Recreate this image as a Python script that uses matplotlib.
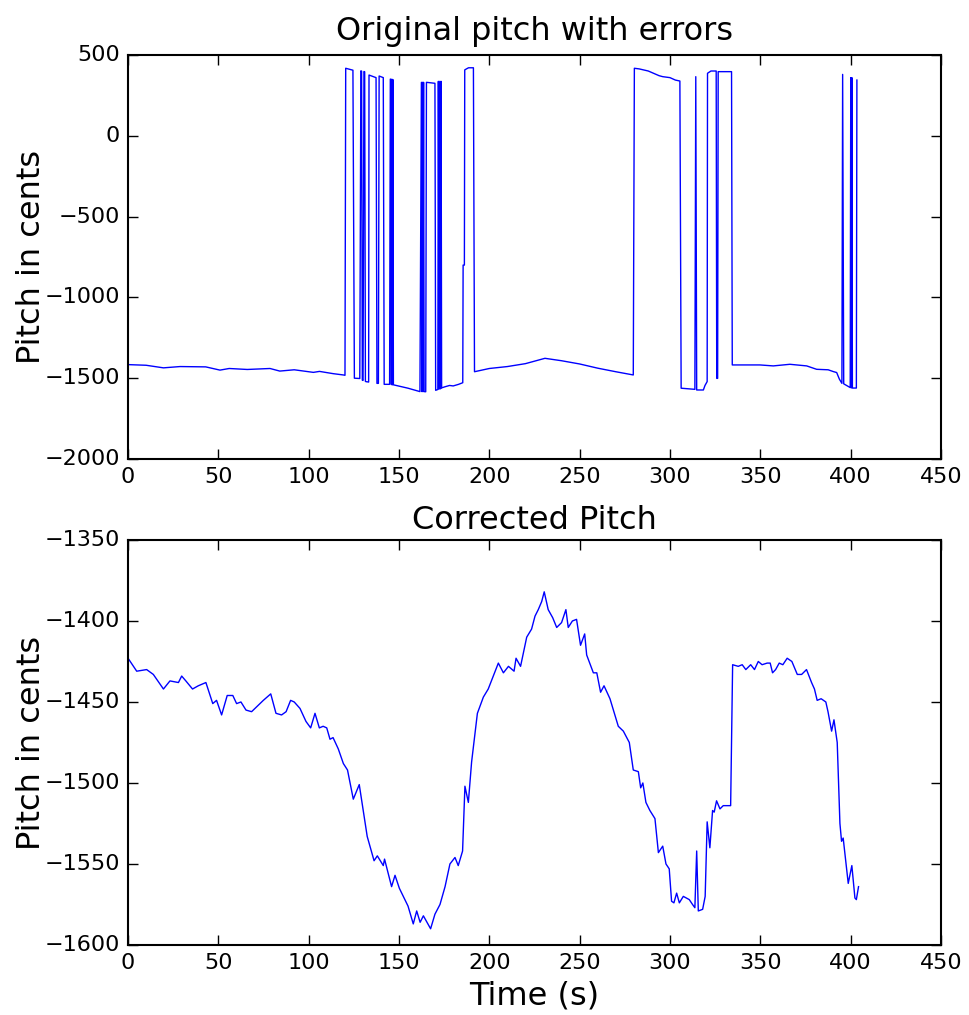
import matplotlib
matplotlib.use("Agg")
import matplotlib.pyplot as plt

# corrected pitch (bottom panel)
time_corr = [0, 4.8, 10.3, 14, 19.6, 23.2, 27.9, 29.7, 32, 35.7,
             38.9, 43.1, 46.9, 49, 51.8, 54.9, 58, 60.1, 62.5, 65.3,
             68.4, 72.1, 74.9, 79, 81.9, 85, 87.5, 90, 92, 95.2,
             98.5, 101.1, 103.5, 105.9, 108, 110, 111.8, 113.5, 116.4, 119.2,
             121.5, 124.7, 128, 132.4, 136.2, 138, 141.3, 142, 145.9, 147.8,
             150.2, 152.4, 155, 157.9, 159.8, 161.7, 163.5, 165.5, 167.5, 169.9,
             172.7, 175.5, 178.2, 181, 182.8, 185.2, 186.5, 188.4, 190.2, 193.4,
             196.7, 199.4, 202.2, 205, 207.8, 210.6, 213.7, 214.8, 217.3, 219.2,
             220.7, 223.4, 225.3, 227.1, 229, 230.4, 232.6, 235.1, 237.3, 240,
             242.4, 243.7, 246, 248.3, 250.5, 252.8, 253.9, 257.6, 259.5, 261.6,
             263.5, 266.8, 271.4, 274.2, 277.5, 279.7, 282.5, 283.8, 285, 286.7,
             288.9, 291.7, 293.6, 296, 297.8, 299.6, 300.9, 302.2, 303.7, 305.2,
             307.4, 309, 310.7, 312.5, 313.8, 314.8, 315.7, 318.1, 319.5, 320.6,
             322.1, 323.6, 324.5, 325.8, 327.7, 329.5, 333.6, 334.7, 337.8, 340,
             342, 344.7, 346.8, 348.9, 351, 353.8, 355.5, 356.8, 358.5, 360.5,
             362.5, 364.9, 367.5, 370.5, 372.9, 375.6, 378.4, 380, 381.5, 383.7,
             386.3, 387.5, 389.5, 390.8, 392.6, 394.1, 395, 395.9, 398.7, 400.7,
             402.4, 403.2, 404.4]
pitch_corr = [-1423, -1431, -1430, -1433, -1442, -1437, -1438, -1434, -1437, -1442,
              -1440, -1438, -1451, -1449, -1458, -1446, -1446, -1451, -1450, -1455,
              -1456, -1452, -1449, -1445, -1457, -1458, -1456, -1449, -1450, -1454,
              -1462, -1466, -1457, -1466, -1465, -1466, -1473, -1472, -1479, -1488,
              -1492, -1510, -1501, -1533, -1548, -1545, -1551, -1547, -1564, -1557,
              -1565, -1570, -1576, -1587, -1579, -1586, -1582, -1586, -1590, -1581,
              -1575, -1564, -1550, -1546, -1551, -1542, -1502, -1512, -1487, -1457,
              -1447, -1442, -1434, -1426, -1432, -1428, -1431, -1423, -1428, -1418,
              -1410, -1405, -1397, -1393, -1388, -1382, -1393, -1398, -1404, -1401,
              -1393, -1404, -1400, -1399, -1415, -1408, -1421, -1432, -1432, -1444,
              -1440, -1448, -1465, -1468, -1475, -1492, -1493, -1503, -1500, -1512,
              -1517, -1522, -1543, -1539, -1550, -1553, -1573, -1574, -1568, -1574,
              -1570, -1571, -1572, -1575, -1577, -1542, -1579, -1578, -1570, -1524,
              -1540, -1517, -1518, -1511, -1516, -1514, -1514, -1427, -1428, -1427,
              -1430, -1427, -1430, -1425, -1427, -1426, -1426, -1432, -1430, -1426,
              -1427, -1423, -1425, -1433, -1433, -1430, -1438, -1442, -1449, -1448,
              -1450, -1456, -1468, -1461, -1475, -1525, -1536, -1534, -1562, -1551,
              -1571, -1572, -1564]

# original pitch with octave+fifth errors (top panel)
time_orig = [0, 10, 19.6, 28.8, 43, 50.9, 56, 66, 78.6, 84,
             92, 102.6, 106, 113.6, 119.2, 120.1,
             120.5, 124.5, 125.3, 128.3, 128.9, 129.3, 129.7, 130.1, 130.6, 131.0,
             131.4, 131.9, 132.2, 133.2, 133.4, 137.3, 137.8, 138.6, 139.0, 141.3,
             141.8, 144.8, 145.2, 145.5, 145.8, 146.1, 146.4, 146.6, 146.9, 155,
             161.6, 162.4, 162.7, 163.0, 163.3, 163.6, 163.9, 164.8, 165.2, 169.9,
             170.3, 171.5, 171.8, 172.2, 172.6, 173.0, 173.3, 173.6, 175.5, 178,
             180, 183, 185.3, 185.5, 186.2, 186.4, 187.5, 188.5, 191.2, 191.8,
             200, 210, 220, 230.8, 240, 250, 260, 270, 279.7,
             280.3, 283, 288, 294, 296, 300, 303, 305.5, 306.2, 313.8,
             314.3, 314.8, 318.5, 319.4, 320.6, 320.8, 322.7, 325.6, 325.9, 326.4,
             326.7, 334.1, 334.5,
             349.8, 357.2, 366.4, 375.7, 381.2, 387.6, 390.4, 392.3, 393.8, 395.2,
             395.6, 396.2, 399.8, 400.1, 400.4, 400.7, 401.0, 403.2, 403.5]
pitch_orig = [-1416, -1420, -1436, -1428, -1430, -1450, -1440, -1446, -1440, -1456,
              -1448, -1464, -1458, -1472, -1480, -1482,
              418, 406, -1500, -1502, 402, 400, -1512, -1514, 398, 396,
              -1520, -1522, -1522, -1524, 376, 360, -1532, -1532, 370, 360,
              -1538, -1538, 351, 350, -1540, 350, -1541, 348, -1541, -1562,
              -1583, 331, -1583, 331, -1583, 331, -1583, -1584, 331, 325,
              -1575, -1570, 337, -1568, 337, -1566, 337, -1560, -1553, -1545,
              -1548, -1538, -1528, -800, -800, 408, 415, 421, 421, -1460,
              -1440, -1428, -1410, -1377, -1392, -1412, -1438, -1460, -1480,
              418, 414, 401, 372, 366, 360, 345, 339, -1562, -1569,
              366, -1573, -1573, -1545, -1521, 387, 401, 401, -1501, -1501,
              397, 397, -1418,
              -1418, -1424, -1414, -1424, -1445, -1448, -1459, -1465, -1506, -1532,
              380, -1535, -1558, 360, -1560, 360, -1561, -1561, 345]

x_ticks = [0, 50, 100, 150, 200, 250, 300, 350, 400, 450]

plt.style.use("classic")
fig = plt.figure(figsize=(9.7, 10.15), dpi=100, facecolor="white")

ax1 = fig.add_axes([0.132, 0.5478, 0.838, 0.398])
ax2 = fig.add_axes([0.132, 0.069, 0.838, 0.399])

ax1.plot(time_orig, pitch_orig, color="b", lw=1.0)
ax1.set_xlim(0, 450)
ax1.set_ylim(-2000, 500)
ax1.set_xticks(x_ticks)
ax1.set_yticks([-2000, -1500, -1000, -500, 0, 500])
ax1.set_title("Original pitch with errors", fontsize=23, pad=11)
ax1.set_ylabel("Pitch in cents", fontsize=23)

ax2.plot(time_corr, pitch_corr, color="b", lw=1.0)
ax2.set_xlim(0, 450)
ax2.set_ylim(-1600, -1350)
ax2.set_xticks(x_ticks)
ax2.set_yticks([-1600, -1550, -1500, -1450, -1400, -1350])
ax2.set_title("Corrected Pitch", fontsize=23, pad=8)
ax2.set_ylabel("Pitch in cents", fontsize=23)
ax2.set_xlabel("Time (s)", fontsize=23)

for ax in (ax1, ax2):
    ax.set_facecolor("white")
    ax.tick_params(labelsize=16, length=7, width=1, direction="in", pad=6)
    for sp in ax.spines.values():
        sp.set_linewidth(1.5)
    ax.yaxis.set_label_coords(-0.1, 0.5)

fig.savefig("out.png", dpi=100, facecolor="white")
